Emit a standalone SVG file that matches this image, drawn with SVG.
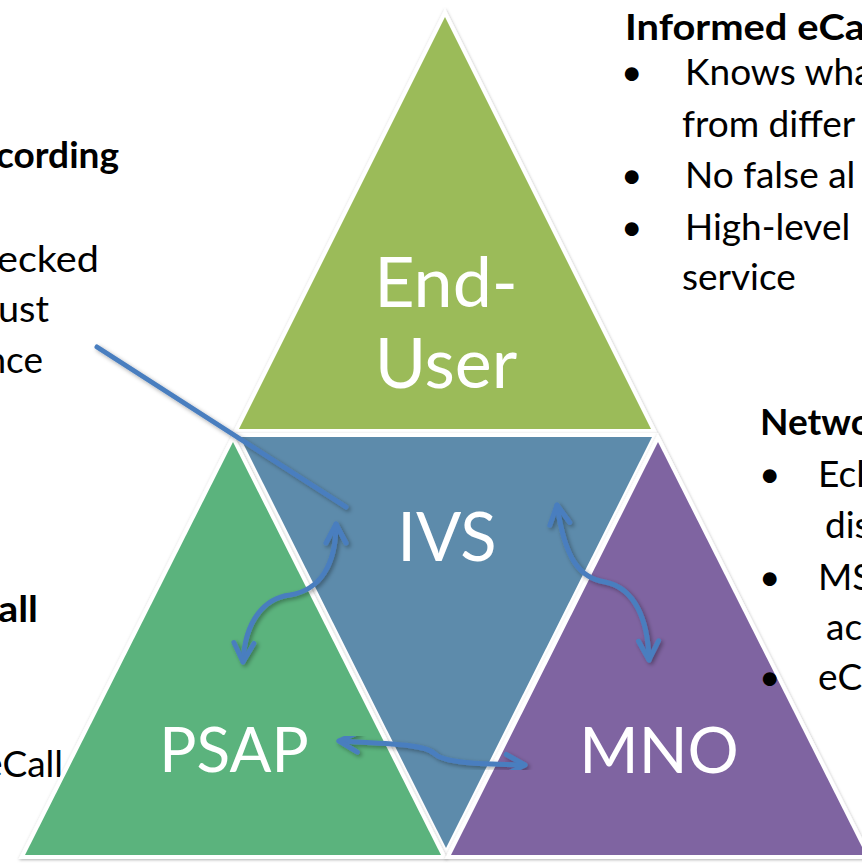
<svg xmlns="http://www.w3.org/2000/svg" width="862" height="865" viewBox="0 0 862 865">
  <style>
    .halo { fill: #ffffff; stroke: #ffffff; stroke-width: 8; stroke-linejoin: miter; filter: url(#soft); }
    .label { font-family: Lato, "Open Sans", sans-serif; fill: #ffffff; text-anchor: middle; }
    .note { font-family: Lato, "Open Sans", sans-serif; font-size: 37px; fill: #000000; }
    .head { font-weight: bold; }
    .conn { fill: none; stroke: #4A7EBF; stroke-width: 5; stroke-linecap: round; filter: url(#drop); }
    .bidir { marker-start: url(#head); marker-end: url(#head); }
  </style>
  <defs>
    <filter id="soft" x="-10%" y="-10%" width="120%" height="120%">
      <feDropShadow dx="0.5" dy="1" stdDeviation="1.5" flood-color="#000000" flood-opacity="0.3"/>
    </filter>
    <filter id="drop" x="-20%" y="-20%" width="140%" height="140%">
      <feDropShadow dx="2" dy="2" stdDeviation="2" flood-color="#000000" flood-opacity="0.35"/>
    </filter>
    <marker id="head" markerUnits="userSpaceOnUse" viewBox="-26 -16 32 32" markerWidth="32" markerHeight="32" refX="0" refY="0" orient="auto-start-reverse">
      <path d="M -19 -10 L 0 0 L -19 10" fill="none" stroke="#4A7EBF" stroke-width="5" stroke-linecap="round" stroke-linejoin="round"/>
    </marker>
  </defs>

  <rect width="862" height="865" fill="#ffffff"/>

  <!-- side notes -->
  <g id="notes-left">
    <text class="note head" x="119" y="168" text-anchor="end" textLength="123" lengthAdjust="spacingAndGlyphs">cording</text>
    <text class="note" x="99" y="272" text-anchor="end" textLength="102" lengthAdjust="spacingAndGlyphs">ecked</text>
    <text class="note" x="49" y="322" text-anchor="end" textLength="51" lengthAdjust="spacingAndGlyphs">ust</text>
    <text class="note" x="43" y="373" text-anchor="end">nce</text>
    <text class="note head" x="38" y="622" text-anchor="end" textLength="40" lengthAdjust="spacingAndGlyphs">all</text>
    <text class="note" x="63" y="777" text-anchor="end">eCall</text>
  </g>

  <g id="notes-top-right">
    <text class="note head" x="625" y="40" textLength="240" lengthAdjust="spacingAndGlyphs">Informed eCa</text>
    <text class="note" x="621" y="85">•</text>
    <text class="note" x="685" y="85">Knows wha</text>
    <text class="note" x="682" y="137">from differ</text>
    <text class="note" x="621" y="188">•</text>
    <text class="note" x="685" y="188">No false al</text>
    <text class="note" x="621" y="240">•</text>
    <text class="note" x="685" y="240">High-level</text>
    <text class="note" x="682" y="290">service</text>
  </g>

  <!-- triangles -->
  <g id="node-end-user">
    <polygon class="halo" points="445,17 651,429 239,429"/>
    <polygon points="445,17 651,429 239,429" fill="#9BBB59"/>
    <text class="label" x="446" y="307" font-size="70">End-</text>
    <text class="label" x="446" y="388" font-size="70">User</text>
  </g>

  <g id="node-ivs">
    <polygon class="halo" points="240,437 652,437 446,848"/>
    <polygon points="240,437 652,437 446,848" fill="#5D8BAB"/>
    <text class="label" x="447" y="561" font-size="67">IVS</text>
  </g>

  <g id="node-psap">
    <polygon class="halo" points="233,442 441,855 25,855"/>
    <polygon points="233,442 441,855 25,855" fill="#5BB37D"/>
    <text class="label" x="234" y="772" font-size="62">PSAP</text>
  </g>

  <g id="node-mno">
    <polygon class="halo" points="658,442 866,855 451,855"/>
    <polygon points="658,442 866,855 451,855" fill="#7F64A1"/>
    <text class="label" x="659" y="773" font-size="64">MNO</text>
  </g>

  <g id="notes-right">
    <text class="note head" x="760" y="435">Netwo</text>
    <text class="note" x="759" y="487">•</text>
    <text class="note" x="818" y="487">Ecl</text>
    <text class="note" x="825" y="538">dis</text>
    <text class="note" x="759" y="590">•</text>
    <text class="note" x="818" y="590">MS</text>
    <text class="note" x="826" y="640">ac</text>
    <text class="note" x="759" y="690">•</text>
    <text class="note" x="818" y="690">eC</text>
  </g>

  <!-- connectors -->
  <g id="connectors">
    <path class="conn" d="M 97 347 L 346 507"/>
    <path class="conn bidir" d="M 243 662 C 245 620, 265 598, 290 595 C 320 590, 336 565, 336 524"/>
    <path class="conn bidir" d="M 557 505 C 565 560, 580 578, 605 582 C 635 588, 648 620, 649 660"/>
    <path class="conn bidir" d="M 339 741 C 390 744, 425 744, 435 754 C 445 764, 490 764, 525 765"/>
  </g>
</svg>
